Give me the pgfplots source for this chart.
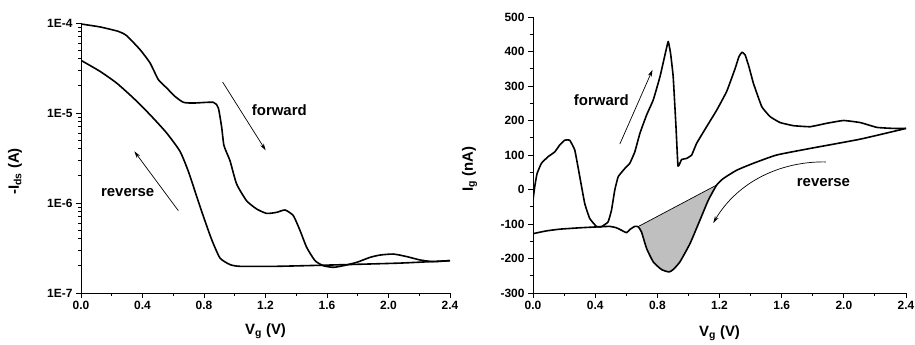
\documentclass[border=0pt]{standalone}
\usepackage{fontspec}
\setmainfont{Liberation Sans}
\usepackage{pgfplots}
\pgfplotsset{compat=1.18}
\usetikzlibrary{arrows.meta}
\pgfplotsset{
  mystyle/.style={
    scale only axis,
    axis lines*=left,
    tick align=outside,
    axis line style={line width=1bp},
    every tick/.style={black, line width=0.9bp},
    major tick length=5bp,
    minor tick length=3bp,
    tick label style={font=\fontsize{12}{14}\selectfont\bfseries},
    label style={font=\fontsize{15}{17}\selectfont\bfseries},
    xmin=0, xmax=2.4,
    xtick={0,0.4,0.8,1.2,1.6,2.0,2.4},
    xticklabels={0.0,0.4,0.8,1.2,1.6,2.0,2.4},
    minor x tick num=1,
    xlabel={V\textsubscript{g} (V)},
  }
}
\begin{document}
\begin{tikzpicture}
\useasboundingbox (0bp,0bp) rectangle (915bp,345bp);
% ---------------- left panel
\begin{axis}[mystyle,
  at={(81bp,52bp)}, anchor=south west,
  width=369bp, height=270bp,
  ymode=log, ymin=1e-7, ymax=1e-4,
  ytick={1e-7,1e-6,1e-5,1e-4},
  yticklabels={1E-7,1E-6,1E-5,1E-4},
  ylabel={-I\textsubscript{ds} (A)},
  xlabel style={at={(axis description cs:0.5,-0.141)}, anchor=center},
  ylabel style={at={(axis description cs:-0.179,0.45)}, anchor=center, rotate=0},
]
\addplot[black, line width=1.6bp, smooth, tension=0.35] coordinates {
(0,9.75e-5) (0.124,9.04e-5) (0.243,8.07e-5) (0.297,7.23e-5) (0.384,5.06e-5)
(0.449,3.60e-5) (0.503,2.35e-5) (0.557,1.90e-5) (0.611,1.53e-5) (0.666,1.315e-5)
(0.731,1.29e-5) (0.861,1.315e-5) (0.893,1.14e-5) (0.915,6.93e-6) (0.930,4.34e-6)
(0.969,2.95e-6) (1.012,1.63e-6) (1.077,1.06e-6) (1.142,8.59e-7) (1.207,7.67e-7)
(1.272,7.87e-7) (1.327,8.36e-7) (1.381,7.23e-7) (1.425,4.93e-7) (1.468,3.21e-7)
(1.522,2.29e-7) (1.576,2.01e-7) (1.641,1.93e-7) (1.706,2.01e-7) (1.793,2.19e-7)
(1.880,2.49e-7) (1.945,2.64e-7) (2.031,2.71e-7) (2.118,2.54e-7) (2.205,2.33e-7)
(2.291,2.23e-7) (2.4,2.29e-7)
};
\addplot[black, line width=1.6bp, smooth, tension=0.35] coordinates {
(0,3.85e-5) (0.124,2.90e-5) (0.232,2.15e-5) (0.340,1.47e-5) (0.449,9.57e-6)
(0.557,6.00e-6) (0.644,3.75e-6) (0.698,2.25e-6) (0.752,1.19e-6) (0.796,7.11e-7)
(0.850,3.92e-7) (0.904,2.45e-7) (0.969,2.07e-7) (1.034,1.98e-7) (1.273,1.98e-7)
(1.641,2.05e-7) (2.075,2.15e-7) (2.4,2.29e-7)
};
\node[font=\fontsize{15}{17}\selectfont\bfseries] at (axis cs:1.29,1.07e-5) {forward};
\node[font=\fontsize{15}{17}\selectfont\bfseries] at (axis cs:0.3035,1.32e-6) {reverse};
\draw[line width=0.7bp, -{Stealth[length=7bp,width=4bp]}] (axis cs:0.921,2.21e-5) -- (axis cs:1.201,3.85e-6);
\draw[line width=0.7bp, -{Stealth[length=7bp,width=4bp]}] (axis cs:0.633,8.22e-7) -- (axis cs:0.347,3.75e-6);
\end{axis}
% ---------------- right panel
\begin{axis}[mystyle,
  at={(533bp,52bp)}, anchor=south west,
  width=373bp, height=276bp,
  ymin=-300, ymax=500,
  ytick={-300,-200,-100,0,100,200,300,400,500},
  yticklabels={-300,-200,-100,0,100,200,300,400,500},
  minor y tick num=1,
  ylabel={I\textsubscript{g} (nA)},
  xlabel style={at={(axis description cs:0.5,-0.145)}, anchor=center},
  ylabel style={at={(axis description cs:-0.17,0.449)}, anchor=center, rotate=0},
]
\addplot[fill=black!25, draw=none] coordinates {
(0.683,-106) (0.698,-120) (0.731,-171) (0.774,-210) (0.827,-232) (0.875,-239)
(0.902,-232) (0.945,-210) (1.010,-157) (1.074,-89) (1.128,-31) (1.182,13)
} -- cycle;
\addplot[black, line width=0.7bp] coordinates {(0.683,-106) (1.182,13)};
\addplot[black, line width=1.6bp, line join=round, smooth, tension=0.2] coordinates {
(0,-31) (0.011,8) (0.026,46) (0.054,76) (0.097,95) (0.140,109) (0.172,129)
(0.204,143) (0.236,143) (0.269,114) (0.301,37) (0.333,-41) (0.365,-84)
(0.408,-107) (0.440,-108) (0.483,-94) (0.505,-60) (0.526,-2) (0.548,37)
(0.591,61) (0.623,76) (0.655,109) (0.688,163) (0.731,216) (0.774,260)
(0.817,327) (0.849,390) (0.870,429) (0.885,395) (0.902,327) (0.920,182)
(0.933,68) (0.956,87) (0.988,90) (1.021,100) (1.053,134) (1.117,182)
(1.182,230) (1.246,284) (1.300,350) (1.325,385) (1.345,398) (1.365,390)
(1.390,355) (1.418,308)
(1.472,240) (1.526,211) (1.590,194) (1.676,185) (1.783,182) (1.891,192)
(1.998,200) (2.106,194) (2.213,180) (2.321,177) (2.4,177)
};
\addplot[black, line width=1.6bp, line join=round, smooth, tension=0.3] coordinates {
(2.4,177) (2.106,146) (1.783,119) (1.568,100) (1.418,76) (1.311,56) (1.225,32)
(1.182,13) (1.128,-31) (1.074,-89) (1.010,-157) (0.945,-210) (0.902,-232)
(0.875,-239) (0.827,-232) (0.774,-210) (0.731,-171) (0.698,-123) (0.677,-108)
(0.655,-107) (0.623,-116) (0.602,-125) (0.569,-118) (0.537,-111) (0.494,-107)
(0.430,-108) (0.301,-111) (0.172,-115) (0.086,-120) (0,-128)
};
\node[font=\fontsize{15}{17}\selectfont\bfseries] at (axis cs:0.44,258) {forward};
\node[font=\fontsize{15}{17}\selectfont\bfseries] at (axis cs:1.869,20) {reverse};
\draw[line width=0.7bp, -{Stealth[length=7bp,width=4bp]}] (axis cs:0.559,132) -- (axis cs:0.769,347);
\draw[line width=0.7bp, -{Stealth[length=7bp,width=4bp]}] (axis cs:1.884,80) .. controls (axis cs:1.60,82) and (axis cs:1.32,25) .. (axis cs:1.16,-97);
\end{axis}
\end{tikzpicture}
\end{document}
